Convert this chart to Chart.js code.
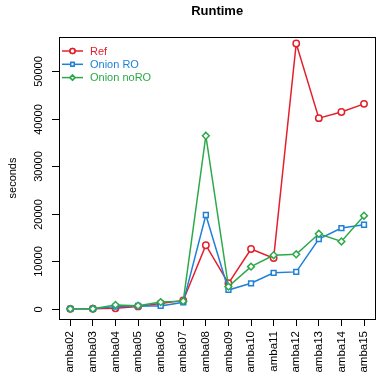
<!DOCTYPE html>
<html>
<head>
<meta charset="utf-8">
<script src="https://cdn.jsdelivr.net/npm/chart.js@4"></script>
<style>
  html, body { margin: 0; padding: 0; overflow: hidden; background: #fff; }
</style>
</head>
<body>
<canvas id="runtimeChart" width="383" height="377"></canvas>
<script>
// categories and series
const categories = ['amba02', 'amba03', 'amba04', 'amba05', 'amba06', 'amba07', 'amba08',
                    'amba09', 'amba10', 'amba11', 'amba12', 'amba13', 'amba14', 'amba15'];
const refTimes    = [30, 40, 150, 550, 1150, 1800, 13400, 5400, 12600, 10700, 55800, 40100, 41400, 43100];
const onionRO     = [30, 40, 500, 650, 650, 1400, 19750, 4000, 5400, 7600, 7800, 14700, 17000, 17700];
const onionNoRO   = [30, 40, 850, 700, 1450, 1650, 36400, 4700, 8900, 11300, 11500, 15800, 14200, 19600];
const yTickValues = [0, 10000, 20000, 30000, 40000, 50000];

const RED = '#e3202b';
const BLUE = '#1f80d8';
const GREEN = '#2ca94a';
const FONT = '"Liberation Sans", Arial, Helvetica, sans-serif';

// R style box, y axis, title and legend
const rFrame = {
    id: 'rFrame',
    afterDraw(chart) {
        const ctx = chart.ctx;
        const area = chart.chartArea;
        const y = chart.scales.y;
        ctx.save();
        ctx.strokeStyle = '#000';
        ctx.lineWidth = 1;
        ctx.strokeRect(Math.round(area.left) + 0.5, Math.round(area.top) + 0.5,
                       Math.round(area.right - area.left), Math.round(area.bottom - area.top));

        // y ticks, labels rotated like las=0
        ctx.fillStyle = '#000';
        ctx.font = '11px ' + FONT;
        ctx.textAlign = 'center';
        ctx.textBaseline = 'middle';
        yTickValues.forEach(v => {
            const py = Math.round(y.getPixelForValue(v)) + 0.5;
            ctx.beginPath();
            ctx.moveTo(area.left - 7, py);
            ctx.lineTo(area.left, py);
            ctx.stroke();
            ctx.save();
            ctx.translate(39, py);
            ctx.rotate(-Math.PI / 2);
            ctx.fillText(String(v), 0, 0);
            ctx.restore();
        });

        // axis title
        ctx.save();
        ctx.translate(13, (area.top + area.bottom) / 2);
        ctx.rotate(-Math.PI / 2);
        ctx.fillText('seconds', 0, 0);
        ctx.restore();

        // main title
        ctx.font = 'bold 13px ' + FONT;
        ctx.fillText('Runtime', (area.left + area.right) / 2, 11);

        // legend (bty = "n")
        ctx.font = '11px ' + FONT;
        ctx.textAlign = 'left';
        chart.data.datasets.forEach((ds, i) => {
            const ly = 51 + i * 13.3;
            ctx.strokeStyle = ds.borderColor;
            ctx.lineWidth = 1.5;
            ctx.beginPath();
            ctx.moveTo(62, ly);
            ctx.lineTo(83, ly);
            ctx.stroke();
            Chart.helpers.drawPoint(ctx, {
                pointStyle: ds.pointStyle, radius: 2.5, borderWidth: 1.5
            }, 72.5, ly);
            ctx.fillStyle = ds.borderColor;
            ctx.fillText(ds.label, 90, ly + 0.5);
        });
        ctx.restore();
    }
};

// legend point needs a fill/stroke set on ctx
Chart.helpers.drawPoint = (function (orig) {
    return function (ctx, opts, x, y) {
        ctx.fillStyle = '#fff';
        orig(ctx, opts, x, y);
        ctx.fill();
        ctx.stroke();
    };
})(Chart.helpers.drawPoint);

function series(label, data, color, style, order) {
    return {
        label: label,
        data: data,
        borderColor: color,
        backgroundColor: color,
        borderWidth: 1.5,
        pointStyle: style,
        pointRadius: style === 'circle' ? 3.2 : 3.4,
        pointBorderWidth: 1.5,
        pointBackgroundColor: '#fff',
        pointBorderColor: color,
        tension: 0,
        order: order
    };
}

const ctx1 = document.getElementById('runtimeChart').getContext('2d');
const runtimeChart = new Chart(ctx1, {
    type: 'line',
    data: {
        labels: categories,
        datasets: [
            series('Ref', refTimes, RED, 'circle', 2),
            series('Onion RO', onionRO, BLUE, 'rect', 1),
            series('Onion noRO', onionNoRO, GREEN, 'rectRot', 0)
        ]
    },
    options: {
        responsive: false,
        animation: false,
        devicePixelRatio: 1,
        layout: { padding: { left: 59, top: 37, right: 0, bottom: 0 } },
        plugins: {
            legend: { display: false },
            tooltip: { enabled: false },
            title: { display: false }
        },
        scales: {
            x: {
                offset: true,
                grid: {
                    display: true,
                    drawOnChartArea: false,
                    offset: false,
                    color: '#000',
                    tickLength: 7,
                    tickWidth: 1
                },
                border: { display: false },
                ticks: {
                    minRotation: 90,
                    maxRotation: 90,
                    autoSkip: false,
                    padding: 5,
                    color: '#000',
                    font: { family: FONT, size: 11.5 }
                },
                afterFit(scale) { scale.height = 58; }
            },
            y: {
                display: false,
                min: -2100,
                max: 57150
            }
        }
    },
    plugins: [rFrame]
});
</script>
</body>
</html>
